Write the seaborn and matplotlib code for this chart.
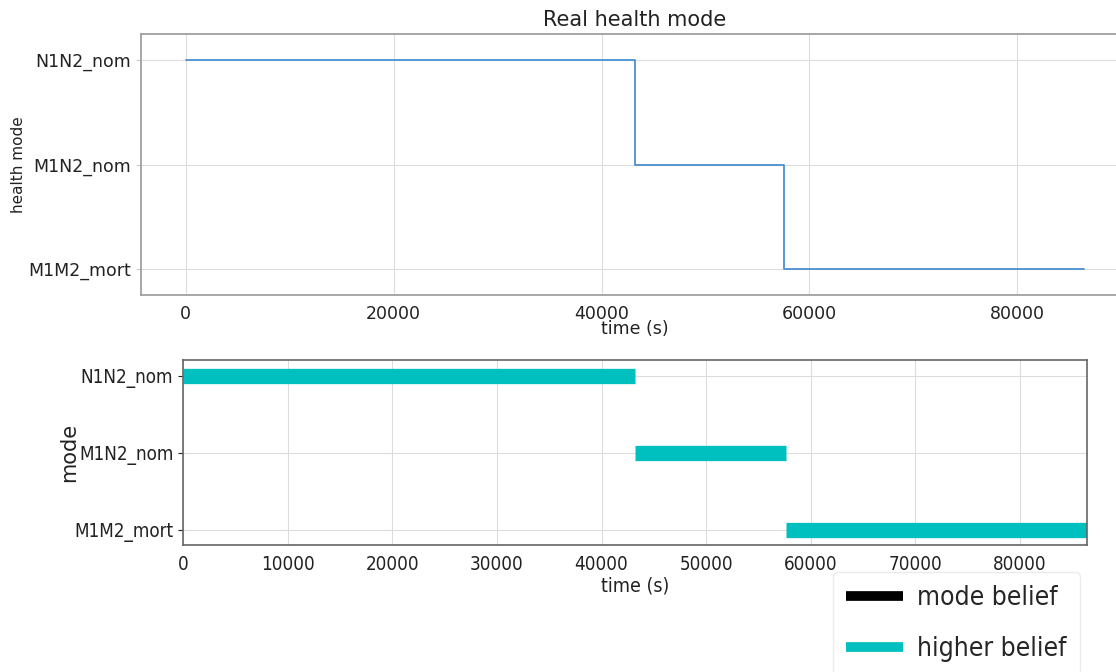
import matplotlib
matplotlib.use("Agg")
import matplotlib.pyplot as plt
from matplotlib import font_manager
from matplotlib.font_manager import FontProperties
from matplotlib.lines import Line2D
import pandas as pd
import seaborn as sns

# data
modes = ["N1N2_nom", "M1N2_nom", "M1M2_mort"]
real_time = [0, 43200, 57600, 86400]
real_mode = ["N1N2_nom", "M1N2_nom", "M1M2_mort", "M1M2_mort"]
belief_mode = ["N1N2_nom", "M1N2_nom", "M1M2_mort"]
belief_start = [0, 43200, 57600]
belief_end = [43200, 57600, 86400]
legend_labels = ["mode belief", "higher belief"]
legend_colors = ["black", "#00bfbf"]

sns.set_style("whitegrid", {"grid.color": "#dddddd", "axes.edgecolor": "#a0a0a0"})
plt.rcParams["font.family"] = ["DejaVu Sans"]

# narrow font for the lower panel (it looks squeezed in the original)
narrow = None
paths = font_manager.findSystemFonts()
for key in ["dejavusanscondensed.ttf", "liberationsansnarrow-regular"]:
    for p in paths:
        if key in p.lower():
            narrow = p
            break
    if narrow:
        break
if narrow:
    fp = FontProperties(fname=narrow)
else:
    fp = FontProperties(family="DejaVu Sans", stretch="condensed")

fig = plt.figure(figsize=(11.16, 6.72), dpi=100)

# top panel: real health mode
ax1 = fig.add_axes([0.1263, 0.561, 0.885, 0.388])
real_df = pd.DataFrame({"time": real_time,
                        "level": [modes.index(m) for m in real_mode]})
sns.lineplot(data=real_df, x="time", y="level", drawstyle="steps-post",
             estimator=None, color="#4a90d0", lw=1.3, ax=ax1)
ax1.set_xlim(-4320, 90720)
ax1.set_ylim(2.25, -0.25)
ax1.set_yticks(range(len(modes)), modes)
ax1.set_xticks([0, 20000, 40000, 60000, 80000])
ax1.tick_params(axis="both", labelsize=12.5, colors="#222222")
ax1.tick_params(axis="y", left=True, length=3.5, color="#cccccc")
ax1.set_title("Real health mode", fontsize=15, color="#222222")
ax1.set_xlabel("time (s)", fontsize=12.5, color="#222222")
ax1.set_ylabel("health mode", fontsize=11, color="#222222")
ax1.xaxis.set_label_coords(0.5, -0.096)
ax1.yaxis.set_label_coords(-0.116, 0.5)
for s in ax1.spines.values():
    s.set_color("#a0a0a0")
    s.set_linewidth(1.3)

# bottom panel: belief segments
ax2 = fig.add_axes([0.164, 0.189, 0.810, 0.275])
rows = []
for i, (m, t0, t1) in enumerate(zip(belief_mode, belief_start, belief_end)):
    rows.append({"seg": i, "time": t0, "level": modes.index(m)})
    rows.append({"seg": i, "time": t1, "level": modes.index(m)})
seg_df = pd.DataFrame(rows)
sns.lineplot(data=seg_df, x="time", y="level", units="seg", estimator=None,
             color=legend_colors[1], lw=11, solid_capstyle="butt", ax=ax2)
ax2.set_xlim(0, 86400)
ax2.set_ylim(2.2, -0.2)
ax2.set_yticks(range(len(modes)), modes)
ax2.set_xticks(range(0, 90000, 10000))
ax2.tick_params(axis="y", left=True, length=3.5, color="#cccccc")
ax2.tick_params(axis="both", colors="#222222")
for lbl in ax2.get_xticklabels() + ax2.get_yticklabels():
    lbl.set_fontproperties(fp)
    lbl.set_fontsize(13.5)
ax2.set_xlabel("time (s)", fontproperties=fp, fontsize=14, color="#222222")
ax2.set_ylabel("mode", fontsize=15, color="#222222")
ax2.xaxis.set_label_coords(0.5, -0.173)
ax2.yaxis.set_label_coords(-0.115, 0.5)
for s in ax2.spines.values():
    s.set_color("#666666")
    s.set_linewidth(1.2)

handles = [Line2D([], [], color=c, lw=7, solid_capstyle="butt") for c in legend_colors]
leg_fp = FontProperties(fname=narrow, size=19) if narrow else FontProperties(size=17)
leg = fig.legend(handles, legend_labels, loc="upper left",
                 bbox_to_anchor=(833 / 1116, 1 - 572 / 672), borderaxespad=0,
                 prop=leg_fp, handlelength=2.15, handletextpad=0.55,
                 borderpad=0.5, labelspacing=0.95, frameon=True, fancybox=True)
leg.get_frame().set_edgecolor("#e6e6e6")

fig.savefig("out.png", dpi=100)
